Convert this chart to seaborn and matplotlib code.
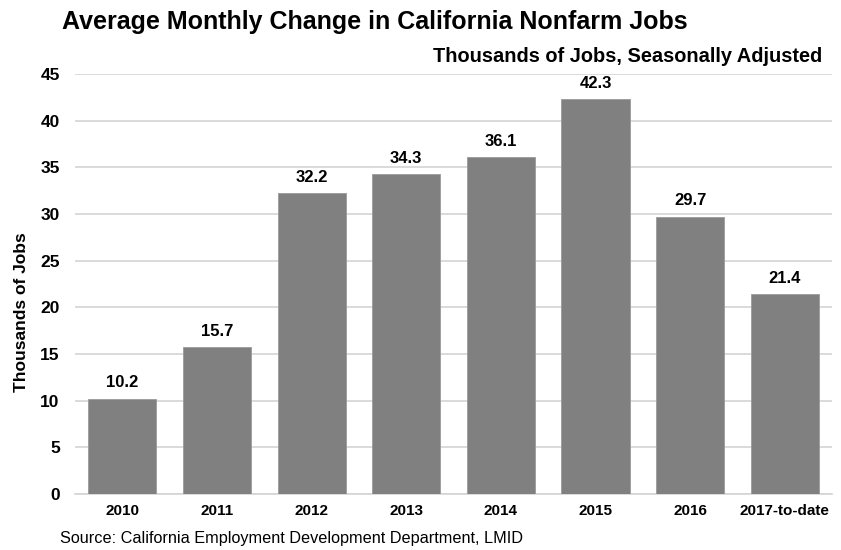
import matplotlib
matplotlib.use("Agg")
import matplotlib.pyplot as plt
import seaborn as sns
import pandas as pd

categories = ["2010", "2011", "2012", "2013", "2014", "2015", "2016", "2017-to-date"]
values = [10.2, 15.7, 32.2, 34.3, 36.1, 42.3, 29.7, 21.4]

sns.set_theme(style="white")
plt.rcParams['font.family'] = ['Liberation Sans', 'DejaVu Sans']
plt.rcParams['text.color'] = 'black'
plt.rcParams['xtick.color'] = 'black'
plt.rcParams['ytick.color'] = 'black'
plt.rcParams['axes.labelcolor'] = 'black'

df = pd.DataFrame({"cat": categories, "val": values})

fig = plt.figure(figsize=(8.41, 5.5), dpi=100)
ax = fig.add_axes([0.0892, 0.1018, 0.9001, 0.7637])
sns.barplot(data=df, x="cat", y="val", color="#808080", saturation=1, width=0.72,
            edgecolor="#9a9a9a", linewidth=0.6, ax=ax, zorder=3)
ax.set_ylim(0, 45)
ax.set_yticks(range(0, 46, 5))
ax.set_xlim(-0.5, len(categories) - 0.5)
ax.yaxis.grid(True, color="#d4d4d4", linewidth=1.2, zorder=0)
ax.set_axisbelow(True)
for s in ["top", "right", "left"]:
    ax.spines[s].set_visible(False)
ax.spines["bottom"].set_color("#d4d4d4")
ax.spines["bottom"].set_linewidth(1.2)
ax.tick_params(axis="y", length=0, labelsize=12.5, pad=11)
ax.tick_params(axis="x", length=0, labelsize=11, pad=7)
for lab in ax.get_xticklabels() + ax.get_yticklabels():
    lab.set_fontweight("bold")
ax.set_xlabel("")
ax.set_ylabel("Thousands of Jobs", fontsize=12.5, fontweight="bold")
ax.yaxis.set_label_coords(-0.061, 0.433)

for i, v in enumerate(values):
    ax.annotate(f"{v:.1f}", (i, v), xytext=(0, 6), textcoords="offset points",
                ha="center", va="bottom", fontsize=12, fontweight="bold")

fig.text(62/841, 1 - 22/550, "Average Monthly Change in California Nonfarm Jobs",
         ha="left", va="center", fontsize=18, fontweight="bold")
fig.text(822/841, 1 - 56/550, "Thousands of Jobs, Seasonally Adjusted",
         ha="right", va="center", fontsize=14.4, fontweight="bold")
fig.text(60/841, 1 - 538/550, "Source: California Employment Development Department, LMID",
         ha="left", va="center", fontsize=11.7)

fig.savefig("out.png", dpi=100)
